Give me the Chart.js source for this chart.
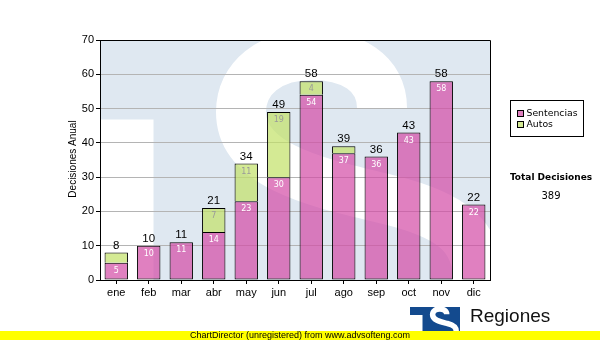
<!DOCTYPE html>
<html>
<head>
<meta charset="utf-8">
<script src="https://cdn.jsdelivr.net/npm/chart.js@4.4.1/dist/chart.umd.min.js"></script>
<style>
  html, body { margin: 0; padding: 0; background: #ffffff; overflow: hidden; }
  canvas { display: block; }
</style>
</head>
<body>
<canvas id="grafico" width="600" height="340"></canvas>
<script>
// Decisiones por mes
const meses = ['ene', 'feb', 'mar', 'abr', 'may', 'jun', 'jul', 'ago', 'sep', 'oct', 'nov', 'dic'];
const sentencias = [5, 10, 11, 14, 23, 30, 54, 37, 36, 43, 58, 22];
const autos = [3, 0, 0, 7, 11, 19, 4, 2, 0, 0, 0, 0];
const yMin = 0;
const yMax = 70;
const yPaso = 10;

const totalesMes = meses.map((_, i) => sentencias[i] + autos[i]);
const totalDecisiones = totalesMes.reduce((a, b) => a + b, 0);

const ROSA = 'rgba(211, 74, 165, 0.7)';
const VERDE = 'rgba(194, 225, 102, 0.7)';
const ROSA_SOLIDO = '#e080c0';
const VERDE_SOLIDO = '#d4ea94';
const AZUL_MARCA = '#dfe8f1';
const AZUL_LOGO = '#134a8e';

const ARIAL = '"Liberation Sans", Arial, sans-serif';
const VERDANA = '"DejaVu Sans", Verdana, sans-serif';

// Trazo de la "S" del logotipo, en coordenadas locales
function trazarS(ctx, ox, oy, k) {
  const p = (x, y) => [ox + x * k, oy + y * k];
  ctx.beginPath();
  ctx.moveTo(...p(282, 68));
  ctx.bezierCurveTo(...p(282, 32), ...p(250, 15), ...p(212, 15));
  ctx.bezierCurveTo(...p(170, 15), ...p(141, 38), ...p(141, 72));
  ctx.bezierCurveTo(...p(141, 130), ...p(230, 145), ...p(290, 160));
  ctx.bezierCurveTo(...p(350, 175), ...p(378, 195), ...p(378, 240));
  ctx.bezierCurveTo(...p(378, 280), ...p(340, 300), ...p(300, 300));
}

// Marca de agua detrás del área de trazado
const marcaAgua = {
  id: 'marcaAgua',
  beforeDraw(chart) {
    const { ctx, chartArea: a } = chart;
    ctx.save();
    ctx.beginPath();
    ctx.rect(a.left, a.top, a.right - a.left, a.bottom - a.top);
    ctx.clip();
    ctx.fillStyle = AZUL_MARCA;
    ctx.fillRect(a.left, a.top, a.right - a.left, a.bottom - a.top);
    ctx.fillStyle = '#ffffff';
    ctx.fillRect(a.left, a.top + 79.5, 53.5, a.bottom - a.top - 79.5);
    ctx.strokeStyle = '#ffffff';
    ctx.lineWidth = 50;
    ctx.lineCap = 'butt';
    trazarS(ctx, a.left, a.top, 1);
    ctx.stroke();
    ctx.restore();
  }
};

// Valores dentro de cada tramo y total encima de cada columna
const etiquetas = {
  id: 'etiquetas',
  afterDatasetsDraw(chart) {
    const { ctx } = chart;
    const y = chart.scales.y;
    ctx.save();
    ctx.textAlign = 'center';
    ctx.textBaseline = 'middle';
    const colores = ['#ffffff', '#9a9a9a'];
    [sentencias, autos].forEach((serie, d) => {
      const meta = chart.getDatasetMeta(d);
      ctx.font = '8px ' + VERDANA;
      ctx.fillStyle = colores[d];
      meta.data.forEach((barra, i) => {
        const alto = barra.base - barra.y;
        if (serie[i] > 0 && alto >= 12) {
          ctx.fillText(String(serie[i]), barra.x, barra.y + 8);
        }
      });
    });
    ctx.font = '11.5px ' + ARIAL;
    ctx.fillStyle = '#000000';
    const meta0 = chart.getDatasetMeta(0);
    totalesMes.forEach((t, i) => {
      ctx.fillText(String(t), meta0.data[i].x, y.getPixelForValue(t) - 7);
    });
    ctx.restore();
  }
};

// Marco, título del eje, leyenda, total y pie
const decoracion = {
  id: 'decoracion',
  afterDraw(chart) {
    const { ctx, chartArea: a } = chart;
    ctx.save();

    // marco superior y derecho
    ctx.strokeStyle = '#000000';
    ctx.lineWidth = 1;
    ctx.beginPath();
    ctx.moveTo(a.left, Math.round(a.top) + 0.5);
    ctx.lineTo(Math.round(a.right) + 0.5, Math.round(a.top) + 0.5);
    ctx.lineTo(Math.round(a.right) + 0.5, Math.round(a.bottom) + 0.5);
    ctx.stroke();

    // título del eje Y
    ctx.save();
    ctx.translate(73, (a.top + a.bottom) / 2 - 1);
    ctx.rotate(-Math.PI / 2);
    ctx.font = '10px ' + ARIAL;
    ctx.fillStyle = '#000000';
    ctx.textAlign = 'center';
    ctx.textBaseline = 'middle';
    ctx.fillText('Decisiones Anual', 0, 0);
    ctx.restore();

    // leyenda
    ctx.fillStyle = '#ffffff';
    ctx.fillRect(510.5, 100.5, 73, 36);
    ctx.strokeStyle = '#000000';
    ctx.strokeRect(510.5, 100.5, 73, 36);
    const muestras = [ROSA_SOLIDO, VERDE_SOLIDO];
    ctx.font = '9.3px ' + VERDANA;
    ctx.textAlign = 'left';
    ctx.textBaseline = 'middle';
    chart.data.datasets.forEach((ds, i) => {
      const yy = 110.5 + i * 11;
      ctx.fillStyle = muestras[i];
      ctx.fillRect(517.5, yy, 6, 6);
      ctx.strokeRect(517.5, yy, 6, 6);
      ctx.fillStyle = '#000000';
      ctx.fillText(ds.label, 526.5, yy + 3.5);
    });

    // total de decisiones
    ctx.textAlign = 'center';
    ctx.font = 'bold 9px ' + VERDANA;
    ctx.fillText('Total Decisiones', 551, 178);
    ctx.font = '10px ' + VERDANA;
    ctx.fillText(String(totalDecisiones), 551, 196);

    // logotipo inferior
    ctx.save();
    ctx.beginPath();
    ctx.rect(410, 307, 50, 33);
    ctx.clip();
    ctx.fillStyle = AZUL_LOGO;
    ctx.fillRect(410, 307, 50, 33);
    ctx.fillStyle = '#ffffff';
    ctx.fillRect(410, 315, 12.5, 25);
    ctx.strokeStyle = '#ffffff';
    ctx.lineWidth = 5.5;
    trazarS(ctx, 418.5, 307.5, 0.1);
    ctx.stroke();
    ctx.restore();

    ctx.fillStyle = '#111111';
    ctx.textAlign = 'left';
    ctx.textBaseline = 'alphabetic';
    ctx.font = '19px ' + ARIAL;
    ctx.fillText('Regiones', 470, 322);

    // franja inferior
    ctx.fillStyle = '#ffff00';
    ctx.fillRect(0, 331, 600, 9);
    ctx.fillStyle = '#000000';
    ctx.textAlign = 'center';
    ctx.textBaseline = 'middle';
    ctx.font = '9px ' + ARIAL;
    ctx.fillText('ChartDirector (unregistered) from www.advsofteng.com', 300, 335.5);

    ctx.restore();
  }
};

new Chart(document.getElementById('grafico'), {
  type: 'bar',
  data: {
    labels: meses,
    datasets: [
      {
        label: 'Sentencias',
        data: sentencias,
        backgroundColor: ROSA,
        borderColor: '#000000',
        borderWidth: 1,
        borderSkipped: false
      },
      {
        label: 'Autos',
        data: autos,
        backgroundColor: VERDE,
        borderColor: '#000000',
        borderWidth: 1,
        borderSkipped: 'start'
      }
    ]
  },
  options: {
    responsive: false,
    animation: false,
    events: [],
    datasets: { bar: { categoryPercentage: 1, barPercentage: 0.72 } },
    layout: { padding: { left: 0, right: 110, top: 40, bottom: 0 } },
    plugins: {
      legend: { display: false },
      tooltip: { enabled: false },
      title: { display: false }
    },
    scales: {
      x: {
        stacked: true,
        offset: true,
        grid: {
          display: true,
          offset: false,
          drawOnChartArea: false,
          drawTicks: true,
          tickLength: 4,
          tickColor: '#000000'
        },
        border: { display: true, color: '#000000', width: 1 },
        ticks: {
          color: '#000000',
          font: { family: ARIAL, size: 11 },
          padding: 2,
          maxRotation: 0,
          autoSkip: false
        },
        afterFit(scale) { scale.height = 60; }
      },
      y: {
        stacked: true,
        min: yMin,
        max: yMax,
        ticks: {
          stepSize: yPaso,
          color: '#000000',
          font: { family: ARIAL, size: 11 },
          padding: 2
        },
        grid: {
          color: '#b4b4b4',
          lineWidth: 1,
          tickColor: '#000000',
          tickLength: 4
        },
        border: { display: true, color: '#000000', width: 1 },
        afterFit(scale) { scale.width = 100; }
      }
    }
  },
  plugins: [marcaAgua, etiquetas, decoracion]
});
</script>
</body>
</html>
